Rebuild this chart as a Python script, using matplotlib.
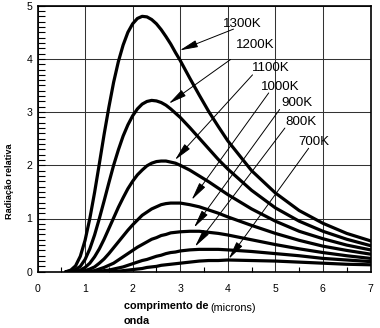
import matplotlib
matplotlib.use("Agg")
import matplotlib.pyplot as plt
from matplotlib.ticker import MultipleLocator

# Wavelength samples (microns)
wavelength = [0.6, 0.7, 0.8, 0.9, 1.0, 1.1, 1.2, 1.3, 1.4, 1.5, 1.6, 1.7, 1.8,
              1.9, 2.0, 2.1, 2.2, 2.3, 2.4, 2.5, 2.6, 2.7, 2.8, 2.9, 3.0,
              3.2, 3.4, 3.6, 3.8, 4.0, 4.5, 5.0, 5.5, 6.0, 6.5, 7.0]

# Relative radiation for each temperature
rad_1300 = [0.00, 0.03, 0.11, 0.29, 0.59, 1.00, 1.49, 2.03, 2.58, 3.09, 3.56, 3.95,
            4.26, 4.50, 4.66, 4.76, 4.80, 4.79, 4.74, 4.66, 4.55, 4.42, 4.28, 4.12,
            3.97, 3.64, 3.32, 3.01, 2.73, 2.46, 1.90, 1.48, 1.15, 0.91, 0.72, 0.58]
rad_1200 = [0.00, 0.01, 0.04, 0.10, 0.23, 0.43, 0.69, 1.00, 1.33, 1.67, 2.00, 2.29,
            2.55, 2.76, 2.93, 3.06, 3.15, 3.20, 3.22, 3.21, 3.18, 3.13, 3.06, 2.98,
            2.90, 2.71, 2.51, 2.31, 2.11, 1.93, 1.53, 1.20, 0.95, 0.76, 0.61, 0.49]
rad_1100 = [0.00, 0.00, 0.01, 0.03, 0.08, 0.16, 0.28, 0.43, 0.61, 0.81, 1.01, 1.21,
            1.39, 1.56, 1.70, 1.82, 1.91, 1.99, 2.04, 2.07, 2.08, 2.08, 2.06, 2.04,
            2.00, 1.91, 1.80, 1.69, 1.57, 1.45, 1.18, 0.95, 0.76, 0.62, 0.50, 0.41]
rad_1000 = [0.00, 0.00, 0.00, 0.01, 0.02, 0.05, 0.09, 0.16, 0.24, 0.34, 0.45, 0.56,
            0.67, 0.78, 0.88, 0.97, 1.06, 1.12, 1.18, 1.22, 1.26, 1.28, 1.29, 1.29,
            1.29, 1.26, 1.22, 1.16, 1.10, 1.03, 0.87, 0.72, 0.59, 0.48, 0.40, 0.33]
rad_900 = [0.00, 0.00, 0.00, 0.00, 0.00, 0.01, 0.02, 0.05, 0.08, 0.12, 0.16, 0.22,
           0.28, 0.34, 0.40, 0.46, 0.51, 0.56, 0.61, 0.64, 0.68, 0.70, 0.73, 0.74,
           0.75, 0.76, 0.76, 0.74, 0.72, 0.69, 0.60, 0.51, 0.43, 0.36, 0.30, 0.25]
rad_800 = [0.00, 0.00, 0.00, 0.00, 0.00, 0.00, 0.00, 0.01, 0.02, 0.03, 0.05, 0.07,
           0.09, 0.12, 0.15, 0.18, 0.21, 0.23, 0.26, 0.29, 0.31, 0.34, 0.36, 0.37,
           0.39, 0.41, 0.42, 0.42, 0.42, 0.41, 0.38, 0.34, 0.30, 0.25, 0.22, 0.19]
rad_700 = [0.00, 0.00, 0.00, 0.00, 0.00, 0.00, 0.00, 0.00, 0.00, 0.01, 0.01, 0.01,
           0.02, 0.03, 0.04, 0.05, 0.06, 0.08, 0.09, 0.10, 0.12, 0.13, 0.14, 0.15,
           0.16, 0.18, 0.20, 0.21, 0.21, 0.22, 0.21, 0.20, 0.18, 0.16, 0.14, 0.13]

labels = ["1300K", "1200K", "1100K", "1000K", "900K", "800K", "700K"]
series = [rad_1300, rad_1200, rad_1100, rad_1000, rad_900, rad_800, rad_700]

x_ticks = [0, 1, 2, 3, 4, 5, 6, 7]
y_ticks = [0, 1, 2, 3, 4, 5]

# Label placement: text centre, arrow start, arrow tip (data coords)
label_layout = [
    ((4.31, 4.66), (4.12, 4.56), (2.99, 4.16)),
    ((4.57, 4.27), (4.06, 3.99), (2.76, 3.16)),
    ((4.90, 3.82), (4.52, 3.70), (2.89, 2.10)),
    ((5.10, 3.47), (4.86, 3.36), (3.24, 1.35)),
    ((5.45, 3.17), (5.09, 3.05), (3.29, 0.83)),
    ((5.53, 2.81), (5.20, 2.70), (3.31, 0.47)),
    ((5.80, 2.43), (5.70, 2.32), (4.02, 0.24)),
]

plt.rcParams["font.family"] = ["Liberation Sans", "DejaVu Sans"]

W, H = 380, 328
fig = plt.figure(figsize=(W / 100, H / 100), dpi=100)
ax = fig.add_axes([37.5 / W, 1 - 271.7 / H, 333 / W, 266 / H])

for vals in series:
    ax.plot(wavelength, vals, color="black", lw=2.3,
            solid_joinstyle="round", solid_capstyle="round", zorder=3)

for text, (tpos, start, tip) in zip(labels, label_layout):
    ax.text(tpos[0], tpos[1], text, fontsize=9.6, ha="center", va="center",
            zorder=5)
    ax.annotate("", xy=tip, xytext=start,
                arrowprops=dict(arrowstyle="-|>,head_length=1.1,head_width=0.22",
                                color="black", lw=0.7, shrinkA=0, shrinkB=0),
                zorder=4)

ax.set_xlim(0, 7)
ax.set_ylim(0, 5)
ax.set_xticks(x_ticks)
ax.set_yticks(y_ticks)
ax.set_xticklabels([str(v) for v in x_ticks])
ax.set_yticklabels([str(v) for v in y_ticks])
ax.xaxis.set_minor_locator(MultipleLocator(0.5))
ax.yaxis.set_minor_locator(MultipleLocator(0.1))

ax.tick_params(axis="x", which="major", direction="in", length=0, pad=8.8,
               labelsize=7.6)
ax.tick_params(axis="x", which="minor", direction="in", length=3.6, width=0.8)
ax.tick_params(axis="y", which="major", direction="in", length=5, width=0.8,
               pad=3.6, labelsize=7.6)
ax.tick_params(axis="y", which="minor", direction="in", length=5, width=0.8)

ax.grid(True, which="major", color="#333333", lw=0.75)
ax.set_axisbelow(True)
for sp in ax.spines.values():
    sp.set_linewidth(1.2)
    sp.set_color("black")

fig.text(124 / W, 1 - 305.7 / H, "comprimento de", fontsize=7.8,
         fontweight="bold", ha="left", va="center")
fig.text(124 / W, 1 - 320.7 / H, "onda", fontsize=7.8,
         fontweight="bold", ha="left", va="center")
fig.text(210.7 / W, 1 - 308 / H, "(microns)", fontsize=7.8,
         ha="left", va="center")
fig.text(10 / W, 1 - 181 / H, "Radiação relativa", fontsize=6.6,
         fontweight="bold", rotation=90, ha="center", va="center")

fig.savefig("out.png", dpi=100)
